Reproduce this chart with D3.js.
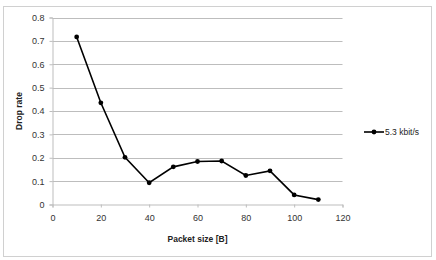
<!DOCTYPE html>
<html>
<head>
<meta charset="utf-8">
<script src="https://cdn.jsdelivr.net/npm/d3@7"></script>
<style>
  body { margin: 0; background: #fff; }
  svg { display: block; }
</style>
</head>
<body>
<div id="chart"></div>
<script>
// data
const packetSizes = [10, 20, 30, 40, 50, 60, 70, 80, 90, 100, 110];
const dropRates = [0.717, 0.435, 0.202, 0.093, 0.161, 0.184, 0.186, 0.124, 0.144, 0.041, 0.021];
const xTicks = [0, 20, 40, 60, 80, 100, 120];
const yTicks = [0, 0.1, 0.2, 0.3, 0.4, 0.5, 0.6, 0.7, 0.8];
const seriesName = "5.3 kbit/s";

const width = 436, height = 260;
const font = "Liberation Sans, Arial, sans-serif";

const svg = d3.select("#chart").append("svg")
    .attr("width", width)
    .attr("height", height)
    .attr("font-family", font);

// outer frame
svg.append("rect")
    .attr("x", 3.5).attr("y", 6.5)
    .attr("width", 428).attr("height", 250)
    .attr("fill", "none")
    .attr("stroke", "#d0d0d0");

const x = d3.scaleLinear().domain([0, 120]).range([52.5, 342.5]);
const y = d3.scaleLinear().domain([0, 0.8]).range([204.5, 17.5]);

// gridlines
svg.append("g")
    .selectAll("line")
    .data(yTicks.slice(1))
    .join("line")
    .attr("x1", x(0)).attr("x2", x(120))
    .attr("y1", d => Math.round(y(d)) + 0.5)
    .attr("y2", d => Math.round(y(d)) + 0.5)
    .attr("stroke", "#bdbdbd");

// y axis
const yAxis = svg.append("g")
    .attr("transform", `translate(${x(0)},0)`)
    .call(d3.axisLeft(y).tickValues(yTicks).tickSize(3).tickPadding(5)
        .tickFormat(d => d === 0 ? "0" : d3.format(".1f")(d)));
yAxis.select(".domain").attr("stroke", "#bdbdbd");
yAxis.selectAll(".tick line").attr("stroke", "#bdbdbd");
yAxis.selectAll("text").attr("font-size", 9).attr("fill", "#333").attr("font-family", font);

// x axis
const xAxis = svg.append("g")
    .attr("transform", `translate(0,${y(0)})`)
    .call(d3.axisBottom(x).tickValues(xTicks).tickSize(3).tickPadding(7));
xAxis.select(".domain").attr("stroke", "#bdbdbd");
xAxis.selectAll(".tick line").attr("stroke", "#bdbdbd");
xAxis.selectAll("text").attr("font-size", 9).attr("fill", "#333").attr("font-family", font);

// axis titles
svg.append("text")
    .attr("transform", `translate(22,${(y(0) + y(0.8)) / 2}) rotate(-90)`)
    .attr("text-anchor", "middle")
    .attr("font-size", 8.5)
    .attr("font-weight", "bold")
    .attr("fill", "#222")
    .text("Drop rate");

svg.append("text")
    .attr("x", (x(0) + x(120)) / 2)
    .attr("y", 242)
    .attr("text-anchor", "middle")
    .attr("font-size", 8.5)
    .attr("font-weight", "bold")
    .attr("fill", "#222")
    .text("Packet size [B]");

// series
const line = d3.line()
    .x((d, i) => x(packetSizes[i]))
    .y(d => y(d));

svg.append("path")
    .datum(dropRates)
    .attr("fill", "none")
    .attr("stroke", "#000")
    .attr("stroke-width", 1.6)
    .attr("d", line);

svg.append("g")
    .selectAll("circle")
    .data(dropRates)
    .join("circle")
    .attr("cx", (d, i) => x(packetSizes[i]))
    .attr("cy", d => y(d))
    .attr("r", 2.4)
    .attr("fill", "#000");

// legend
const lg = svg.append("g").attr("transform", "translate(364,132)");
lg.append("line").attr("x1", 0).attr("x2", 20)
    .attr("stroke", "#000").attr("stroke-width", 1.6);
lg.append("circle").attr("cx", 10).attr("r", 2.4).attr("fill", "#000");
lg.append("text")
    .attr("x", 21).attr("dy", "0.35em")
    .attr("font-size", 8.5)
    .attr("fill", "#222")
    .text(seriesName);
</script>
</body>
</html>
